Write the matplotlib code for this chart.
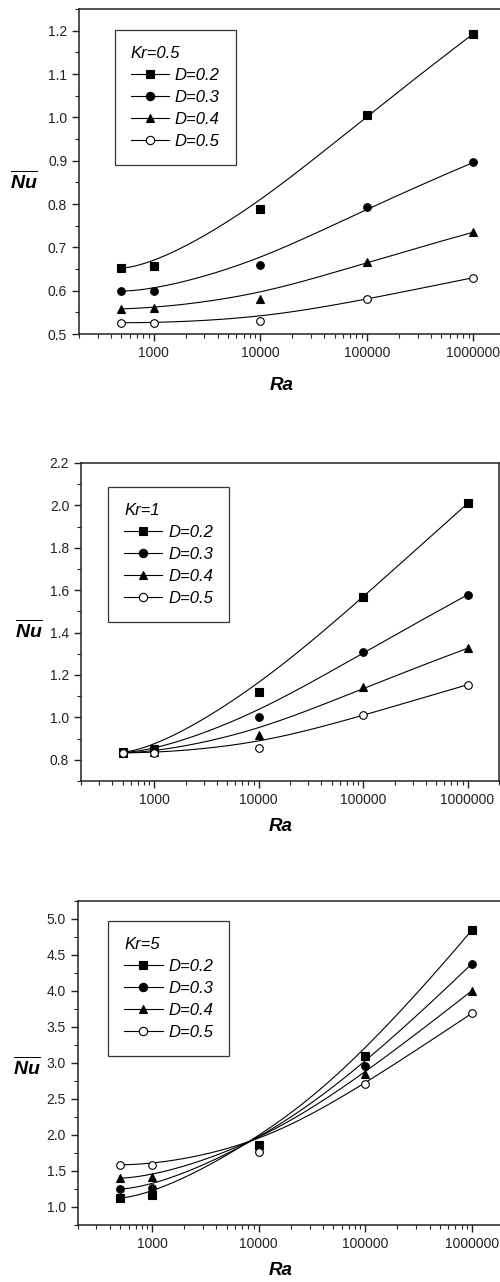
import numpy as np
import matplotlib
matplotlib.use('Agg')
import matplotlib.pyplot as plt
from matplotlib.lines import Line2D
from matplotlib.ticker import FixedLocator, MultipleLocator, LogLocator, NullFormatter, FuncFormatter

plt.rcParams['font.family'] = ['Liberation Sans', 'DejaVu Sans']
plt.rcParams['mathtext.fontset'] = 'custom'
plt.rcParams['mathtext.bf'] = 'Liberation Sans:bold:italic'
plt.rcParams['mathtext.rm'] = 'Liberation Sans'

ra = [500, 1000, 10000, 100000, 1000000]
d_labels = ['D=0.2', 'D=0.3', 'D=0.4', 'D=0.5']

# Kr = 0.5
kr05_d02 = [0.652, 0.657, 0.789, 1.006, 1.193]
kr05_d03 = [0.599, 0.600, 0.659, 0.792, 0.896]
kr05_d04 = [0.558, 0.560, 0.581, 0.667, 0.735]
kr05_d05 = [0.526, 0.526, 0.531, 0.580, 0.630]

# Kr = 1
kr1_d02 = [0.836, 0.849, 1.122, 1.567, 2.009]
kr1_d03 = [0.834, 0.840, 1.000, 1.309, 1.578]
kr1_d04 = [0.833, 0.835, 0.915, 1.142, 1.326]
kr1_d05 = [0.833, 0.833, 0.857, 1.010, 1.154]

# Kr = 5
kr5_d02 = [1.125, 1.160, 1.864, 3.100, 4.846]
kr5_d03 = [1.250, 1.270, 1.840, 2.960, 4.379]
kr5_d04 = [1.400, 1.416, 1.815, 2.845, 4.004]
kr5_d05 = [1.587, 1.587, 1.770, 2.706, 3.690]

markers = ['s', 'o', '^', 'o']
faces = ['black', 'black', 'black', 'white']


def bspline(xs, ys, n=300, k=3):
    # clamped B-spline with the data points as control points (drawn in log x)
    P = np.column_stack([np.log10(xs), ys])
    m = len(P)
    knots = np.concatenate([np.zeros(k), np.linspace(0, 1, m - k + 1), np.ones(k)])
    t = np.linspace(0, 1, n)
    N = np.zeros((n, len(knots) - 1))
    for i in range(len(knots) - 1):
        N[:, i] = (knots[i] <= t) & (t < knots[i + 1])
    N[-1, m - 1] = 1.0
    for p in range(1, k + 1):
        Nn = np.zeros((n, len(knots) - 1 - p))
        for i in range(len(knots) - 1 - p):
            a = knots[i + p] - knots[i]
            b = knots[i + p + 1] - knots[i + 1]
            left = (t - knots[i]) / a * N[:, i] if a > 0 else 0
            right = (knots[i + p + 1] - t) / b * N[:, i + 1] if b > 0 else 0
            Nn[:, i] = left + right
        N = Nn
    C = N @ P
    return 10 ** C[:, 0], C[:, 1]


def panel(fig, rect, series, kr, ylim, ymajor, yminor, ylab_xy, xlab_xy, leg_xy):
    ax = fig.add_axes(rect)
    for ys, mk, fc, lab in zip(series, markers, faces, d_labels):
        cx, cy = bspline(ra, ys)
        ax.plot(cx, cy, color='black', lw=0.8, zorder=2)
        ax.plot(ra, ys, ls='none', marker=mk, ms=5.5, mfc=fc, mec='black',
                mew=0.8, zorder=3, clip_on=False)
    ax.set_xscale('log')
    ax.set_xlim(200, 2e6)
    ax.set_ylim(*ylim)
    ax.xaxis.set_major_locator(FixedLocator([1000, 10000, 100000, 1000000]))
    ax.xaxis.set_major_formatter(FuncFormatter(lambda v, p: '%d' % round(v)))
    ax.xaxis.set_minor_locator(LogLocator(base=10, subs=np.arange(2, 10)))
    ax.xaxis.set_minor_formatter(NullFormatter())
    ax.yaxis.set_major_locator(MultipleLocator(ymajor))
    ax.yaxis.set_minor_locator(MultipleLocator(yminor))
    ax.yaxis.set_major_formatter(FuncFormatter(lambda v, p: '%.1f' % v))
    ax.tick_params(which='major', direction='out', length=5, width=1, labelsize=10,
                   top=False, right=False, colors='#222222')
    ax.tick_params(which='minor', direction='out', length=3, width=0.8,
                   top=False, right=False, colors='#222222')
    for s in ax.spines.values():
        s.set_linewidth(1.1)
        s.set_color('#222222')

    ax.set_ylabel(r'$\overline{\mathbf{Nu}}$', fontsize=14, rotation=0,
                  ha='center', va='center')
    ax.yaxis.set_label_coords(*ylab_xy)
    ax.set_xlabel('Ra', fontsize=13.5, fontweight='bold', fontstyle='italic')
    ax.xaxis.label.set_verticalalignment('center')
    ax.xaxis.set_label_coords(*xlab_xy)

    handles = [Line2D([], [], color='black', lw=0.8, marker=mk, ms=6, mfc=fc,
                      mec='black', mew=0.8) for mk, fc in zip(markers, faces)]
    leg = ax.legend(handles, d_labels, title='Kr=' + kr, loc='upper left',
                    bbox_to_anchor=leg_xy, borderaxespad=0, fancybox=False,
                    framealpha=1, edgecolor='#333333', handlelength=2.3,
                    handletextpad=0.35, labelspacing=0.42, borderpad=0.95,
                    numpoints=1, alignment='left',
                    prop={'style': 'italic', 'size': 12},
                    title_fontproperties={'style': 'italic', 'size': 12})
    leg.get_frame().set_linewidth(0.9)
    return ax


fig = plt.figure(figsize=(5, 12.82), dpi=100)
W, H = 500.0, 1282.0


def rect(l, r, t, b):
    return [l / W, 1 - b / H, (r - l) / W, (b - t) / H]


panel(fig, rect(79, 505.5, 9, 334),
      [kr05_d02, kr05_d03, kr05_d04, kr05_d05], '0.5',
      (0.5, 1.25), 0.1, 0.05, (-0.13, 0.47), (0.474, -0.157), (0.084, 0.935))
panel(fig, rect(81, 499, 463, 781),
      [kr1_d02, kr1_d03, kr1_d04, kr1_d05], '1',
      (0.7, 2.2), 0.2, 0.1, (-0.125, 0.475), (0.478, -0.142), (0.065, 0.925))
panel(fig, rect(77.7, 504, 901, 1225),
      [kr5_d02, kr5_d03, kr5_d04, kr5_d05], '5',
      (0.75, 5.25), 0.5, 0.25, (-0.12, 0.488), (0.477, -0.139), (0.072, 0.937))

fig.savefig('out.png', dpi=100)
